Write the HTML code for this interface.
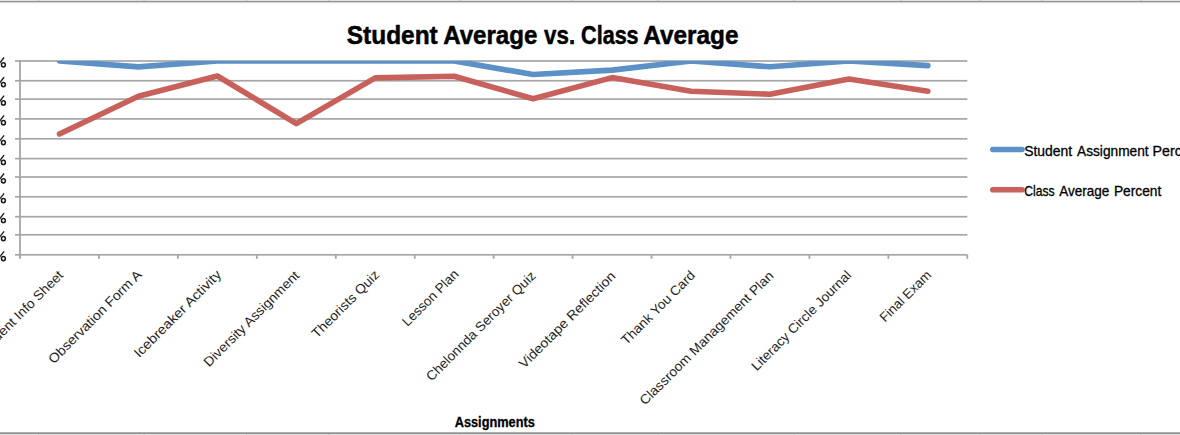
<!DOCTYPE html>
<html><head><meta charset="utf-8"><style>
html,body{margin:0;padding:0;background:#fff;width:1180px;height:435px;overflow:hidden}
svg{display:block}
text{font-family:"Liberation Sans", sans-serif}
</style></head><body>
<svg width="1180" height="435" viewBox="0 0 1180 435">

<rect x="0" y="0" width="1180" height="1.2" fill="#e4e4e4"/>
<rect x="37.9" y="0" width="1.3" height="1.2" fill="#c8c8c8"/>
<rect x="143.4" y="0" width="1.3" height="1.2" fill="#c8c8c8"/>
<rect x="245.9" y="0" width="1.3" height="1.2" fill="#c8c8c8"/>
<rect x="328.4" y="0" width="1.3" height="1.2" fill="#c8c8c8"/>
<rect x="459.4" y="0" width="1.3" height="1.2" fill="#c8c8c8"/>
<rect x="571.4" y="0" width="1.3" height="1.2" fill="#c8c8c8"/>
<rect x="657.4" y="0" width="1.3" height="1.2" fill="#c8c8c8"/>
<rect x="793.4" y="0" width="1.3" height="1.2" fill="#c8c8c8"/>
<rect x="900.4" y="0" width="1.3" height="1.2" fill="#c8c8c8"/>
<rect x="979.4" y="0" width="1.3" height="1.2" fill="#c8c8c8"/>
<rect x="1041.4" y="0" width="1.3" height="1.2" fill="#c8c8c8"/>
<rect x="1140.4" y="0" width="1.3" height="1.2" fill="#c8c8c8"/>
<rect x="0" y="1" width="1180" height="1.3" fill="#8e8e8e"/>
<rect x="0" y="2.3" width="1180" height="1" fill="#d8d8d8" opacity="0.6"/>
<rect x="0" y="432.3" width="1180" height="1.8" fill="#8e8e8e"/>
<rect x="0" y="434" width="1180" height="1" fill="#e4e4e4"/>
<rect x="37.9" y="434" width="1.3" height="1" fill="#c8c8c8"/>
<rect x="143.4" y="434" width="1.3" height="1" fill="#c8c8c8"/>
<rect x="245.9" y="434" width="1.3" height="1" fill="#c8c8c8"/>
<rect x="328.4" y="434" width="1.3" height="1" fill="#c8c8c8"/>
<rect x="459.4" y="434" width="1.3" height="1" fill="#c8c8c8"/>
<rect x="571.4" y="434" width="1.3" height="1" fill="#c8c8c8"/>
<rect x="657.4" y="434" width="1.3" height="1" fill="#c8c8c8"/>
<rect x="793.4" y="434" width="1.3" height="1" fill="#c8c8c8"/>
<rect x="900.4" y="434" width="1.3" height="1" fill="#c8c8c8"/>
<rect x="979.4" y="434" width="1.3" height="1" fill="#c8c8c8"/>
<rect x="1041.4" y="434" width="1.3" height="1" fill="#c8c8c8"/>
<rect x="1140.4" y="434" width="1.3" height="1" fill="#c8c8c8"/>
<text x="346.80" y="43.6" font-size="25.5" font-weight="bold" fill="#000" textLength="90.9" lengthAdjust="spacingAndGlyphs" stroke="#000" stroke-width="0.5">Student</text>
<text x="443.20" y="43.6" font-size="25.5" font-weight="bold" fill="#000" textLength="94.2" lengthAdjust="spacingAndGlyphs" stroke="#000" stroke-width="0.5">Average</text>
<text x="544.10" y="43.6" font-size="25.5" font-weight="bold" fill="#000" textLength="31.0" lengthAdjust="spacingAndGlyphs" stroke="#000" stroke-width="0.5">vs.</text>
<text x="581.10" y="43.6" font-size="25.5" font-weight="bold" fill="#000" textLength="57.5" lengthAdjust="spacingAndGlyphs" stroke="#000" stroke-width="0.5">Class</text>
<text x="643.30" y="43.6" font-size="25.5" font-weight="bold" fill="#000" textLength="95.2" lengthAdjust="spacingAndGlyphs" stroke="#000" stroke-width="0.5">Average</text>
<rect x="15" y="60.15" width="952.30" height="1.7" fill="#a6a6a6"/>
<rect x="15" y="79.90" width="952.30" height="1.7" fill="#a6a6a6"/>
<rect x="15" y="98.25" width="952.30" height="1.7" fill="#a6a6a6"/>
<rect x="15" y="118.05" width="952.30" height="1.7" fill="#a6a6a6"/>
<rect x="15" y="137.95" width="952.30" height="1.7" fill="#a6a6a6"/>
<rect x="15" y="157.75" width="952.30" height="1.7" fill="#a6a6a6"/>
<rect x="15" y="176.15" width="952.30" height="1.7" fill="#a6a6a6"/>
<rect x="15" y="195.95" width="952.30" height="1.7" fill="#a6a6a6"/>
<rect x="15" y="215.85" width="952.30" height="1.7" fill="#a6a6a6"/>
<rect x="15" y="233.95" width="952.30" height="1.7" fill="#a6a6a6"/>
<rect x="15" y="253.95" width="952.30" height="1.7" fill="#a6a6a6"/>
<rect x="19.10" y="60.20" width="1.8" height="197.80" fill="#a6a6a6"/>
<rect x="19.10" y="254.8" width="1.8" height="4" fill="#a6a6a6"/>
<rect x="98.04" y="254.8" width="1.8" height="4" fill="#a6a6a6"/>
<rect x="176.98" y="254.8" width="1.8" height="4" fill="#a6a6a6"/>
<rect x="255.92" y="254.8" width="1.8" height="4" fill="#a6a6a6"/>
<rect x="334.87" y="254.8" width="1.8" height="4" fill="#a6a6a6"/>
<rect x="413.81" y="254.8" width="1.8" height="4" fill="#a6a6a6"/>
<rect x="492.75" y="254.8" width="1.8" height="4" fill="#a6a6a6"/>
<rect x="571.69" y="254.8" width="1.8" height="4" fill="#a6a6a6"/>
<rect x="650.63" y="254.8" width="1.8" height="4" fill="#a6a6a6"/>
<rect x="729.57" y="254.8" width="1.8" height="4" fill="#a6a6a6"/>
<rect x="808.52" y="254.8" width="1.8" height="4" fill="#a6a6a6"/>
<rect x="887.46" y="254.8" width="1.8" height="4" fill="#a6a6a6"/>
<rect x="966.40" y="254.8" width="1.8" height="4" fill="#a6a6a6"/>
<path d="M4.1,57.50 L-1.5,64.60" stroke="#1a1a1a" stroke-width="1.35" fill="none"/>
<ellipse cx="3.4" cy="64.80" rx="1.95" ry="2.1" stroke="#1a1a1a" stroke-width="1.5" fill="none"/>
<path d="M4.1,77.25 L-1.5,84.35" stroke="#1a1a1a" stroke-width="1.35" fill="none"/>
<ellipse cx="3.4" cy="84.55" rx="1.95" ry="2.1" stroke="#1a1a1a" stroke-width="1.5" fill="none"/>
<path d="M4.1,95.60 L-1.5,102.70" stroke="#1a1a1a" stroke-width="1.35" fill="none"/>
<ellipse cx="3.4" cy="102.90" rx="1.95" ry="2.1" stroke="#1a1a1a" stroke-width="1.5" fill="none"/>
<path d="M4.1,115.40 L-1.5,122.50" stroke="#1a1a1a" stroke-width="1.35" fill="none"/>
<ellipse cx="3.4" cy="122.70" rx="1.95" ry="2.1" stroke="#1a1a1a" stroke-width="1.5" fill="none"/>
<path d="M4.1,135.30 L-1.5,142.40" stroke="#1a1a1a" stroke-width="1.35" fill="none"/>
<ellipse cx="3.4" cy="142.60" rx="1.95" ry="2.1" stroke="#1a1a1a" stroke-width="1.5" fill="none"/>
<path d="M4.1,155.10 L-1.5,162.20" stroke="#1a1a1a" stroke-width="1.35" fill="none"/>
<ellipse cx="3.4" cy="162.40" rx="1.95" ry="2.1" stroke="#1a1a1a" stroke-width="1.5" fill="none"/>
<path d="M4.1,173.50 L-1.5,180.60" stroke="#1a1a1a" stroke-width="1.35" fill="none"/>
<ellipse cx="3.4" cy="180.80" rx="1.95" ry="2.1" stroke="#1a1a1a" stroke-width="1.5" fill="none"/>
<path d="M4.1,193.30 L-1.5,200.40" stroke="#1a1a1a" stroke-width="1.35" fill="none"/>
<ellipse cx="3.4" cy="200.60" rx="1.95" ry="2.1" stroke="#1a1a1a" stroke-width="1.5" fill="none"/>
<path d="M4.1,213.20 L-1.5,220.30" stroke="#1a1a1a" stroke-width="1.35" fill="none"/>
<ellipse cx="3.4" cy="220.50" rx="1.95" ry="2.1" stroke="#1a1a1a" stroke-width="1.5" fill="none"/>
<path d="M4.1,231.30 L-1.5,238.40" stroke="#1a1a1a" stroke-width="1.35" fill="none"/>
<ellipse cx="3.4" cy="238.60" rx="1.95" ry="2.1" stroke="#1a1a1a" stroke-width="1.5" fill="none"/>
<path d="M4.1,251.30 L-1.5,258.40" stroke="#1a1a1a" stroke-width="1.35" fill="none"/>
<ellipse cx="3.4" cy="258.60" rx="1.95" ry="2.1" stroke="#1a1a1a" stroke-width="1.5" fill="none"/>
<defs><clipPath id="pc"><rect x="20.0" y="61.0" width="1000" height="300"/></clipPath></defs>
<g clip-path="url(#pc)">
<path d="M59.47,61.00 L138.41,66.90 L217.35,61.00 L296.30,61.00 L375.24,61.00 L454.18,61.00 L533.12,74.50 L612.06,70.10 L691.00,61.00 L769.95,66.80 L848.89,61.00 L927.83,65.60" fill="none" stroke="#5b91c6" stroke-width="5.6" stroke-linejoin="round" stroke-linecap="round"/>
<path d="M59.47,134.00 L138.41,96.30 L217.35,76.00 L296.30,123.70 L375.24,77.90 L454.18,76.20 L533.12,98.80 L612.06,77.60 L691.00,91.30 L769.95,94.20 L848.89,79.10 L927.83,91.30" fill="none" stroke="#c8605b" stroke-width="5.6" stroke-linejoin="round" stroke-linecap="round"/>
</g>
<text transform="translate(64.07,276.00) rotate(-45)" x="0" y="0" font-size="13.3" text-anchor="end" textLength="114.4" lengthAdjust="spacingAndGlyphs" fill="#1e1e28">Student Info Sheet</text>
<text transform="translate(142.55,275.60) rotate(-45)" x="0" y="0" font-size="13.3" text-anchor="end" textLength="125.6" lengthAdjust="spacingAndGlyphs" fill="#1e1e28">Observation Form A</text>
<text transform="translate(222.00,275.50) rotate(-45)" x="0" y="0" font-size="13.3" text-anchor="end" textLength="117.2" lengthAdjust="spacingAndGlyphs" fill="#1e1e28">Icebreaker Activity</text>
<text transform="translate(300.15,276.40) rotate(-45)" x="0" y="0" font-size="13.3" text-anchor="end" textLength="128.8" lengthAdjust="spacingAndGlyphs" fill="#1e1e28">Diversity Assignment</text>
<text transform="translate(380.20,275.60) rotate(-45)" x="0" y="0" font-size="13.3" text-anchor="end" textLength="89.4" lengthAdjust="spacingAndGlyphs" fill="#1e1e28">Theorists Quiz</text>
<text transform="translate(459.45,275.10) rotate(-45)" x="0" y="0" font-size="13.3" text-anchor="end" textLength="73.5" lengthAdjust="spacingAndGlyphs" fill="#1e1e28">Lesson Plan</text>
<text transform="translate(536.60,276.65) rotate(-45)" x="0" y="0" font-size="13.3" text-anchor="end" textLength="148.7" lengthAdjust="spacingAndGlyphs" fill="#1e1e28">Chelonnda Seroyer Quiz</text>
<text transform="translate(616.30,277.05) rotate(-45)" x="0" y="0" font-size="13.3" text-anchor="end" textLength="130.1" lengthAdjust="spacingAndGlyphs" fill="#1e1e28">Videotape Reflection</text>
<text transform="translate(696.00,276.15) rotate(-45)" x="0" y="0" font-size="13.3" text-anchor="end" textLength="98.2" lengthAdjust="spacingAndGlyphs" fill="#1e1e28">Thank You Card</text>
<text transform="translate(774.35,276.60) rotate(-45)" x="0" y="0" font-size="13.3" text-anchor="end" textLength="182.8" lengthAdjust="spacingAndGlyphs" fill="#1e1e28">Classroom Management Plan</text>
<text transform="translate(852.05,276.10) rotate(-45)" x="0" y="0" font-size="13.3" text-anchor="end" textLength="134.9" lengthAdjust="spacingAndGlyphs" fill="#1e1e28">Literacy Circle Journal</text>
<text transform="translate(932.05,275.85) rotate(-45)" x="0" y="0" font-size="13.3" text-anchor="end" textLength="66.5" lengthAdjust="spacingAndGlyphs" fill="#1e1e28">Final Exam</text>
<text x="454.70" y="426.9" font-size="14.5" font-weight="bold" fill="#000" textLength="80.1" lengthAdjust="spacingAndGlyphs" stroke="#000" stroke-width="0.3">Assignments</text>
<line x1="992.8" y1="149.5" x2="1022" y2="149.5" stroke="#5b91c6" stroke-width="5.6" stroke-linecap="round"/>
<line x1="992.8" y1="189.7" x2="1022" y2="189.7" stroke="#c8605b" stroke-width="5.6" stroke-linecap="round"/>
<text x="1024.20" y="155.8" font-size="14.2" font-weight="normal" fill="#000" textLength="47.9" lengthAdjust="spacingAndGlyphs" stroke="#000" stroke-width="0.3">Student</text>
<text x="1077.00" y="155.8" font-size="14.2" font-weight="normal" fill="#000" textLength="71.6" lengthAdjust="spacingAndGlyphs" stroke="#000" stroke-width="0.3">Assignment</text>
<text x="1152.60" y="155.8" font-size="14.2" font-weight="normal" fill="#000" textLength="48.9" lengthAdjust="spacingAndGlyphs" stroke="#000" stroke-width="0.3">Percent</text>
<text x="1024.20" y="195.6" font-size="14.2" font-weight="normal" fill="#000" textLength="30.5" lengthAdjust="spacingAndGlyphs" stroke="#000" stroke-width="0.3">Class</text>
<text x="1059.30" y="195.6" font-size="14.2" font-weight="normal" fill="#000" textLength="50.1" lengthAdjust="spacingAndGlyphs" stroke="#000" stroke-width="0.3">Average</text>
<text x="1113.90" y="195.6" font-size="14.2" font-weight="normal" fill="#000" textLength="47.4" lengthAdjust="spacingAndGlyphs" stroke="#000" stroke-width="0.3">Percent</text>
</svg></body></html>
